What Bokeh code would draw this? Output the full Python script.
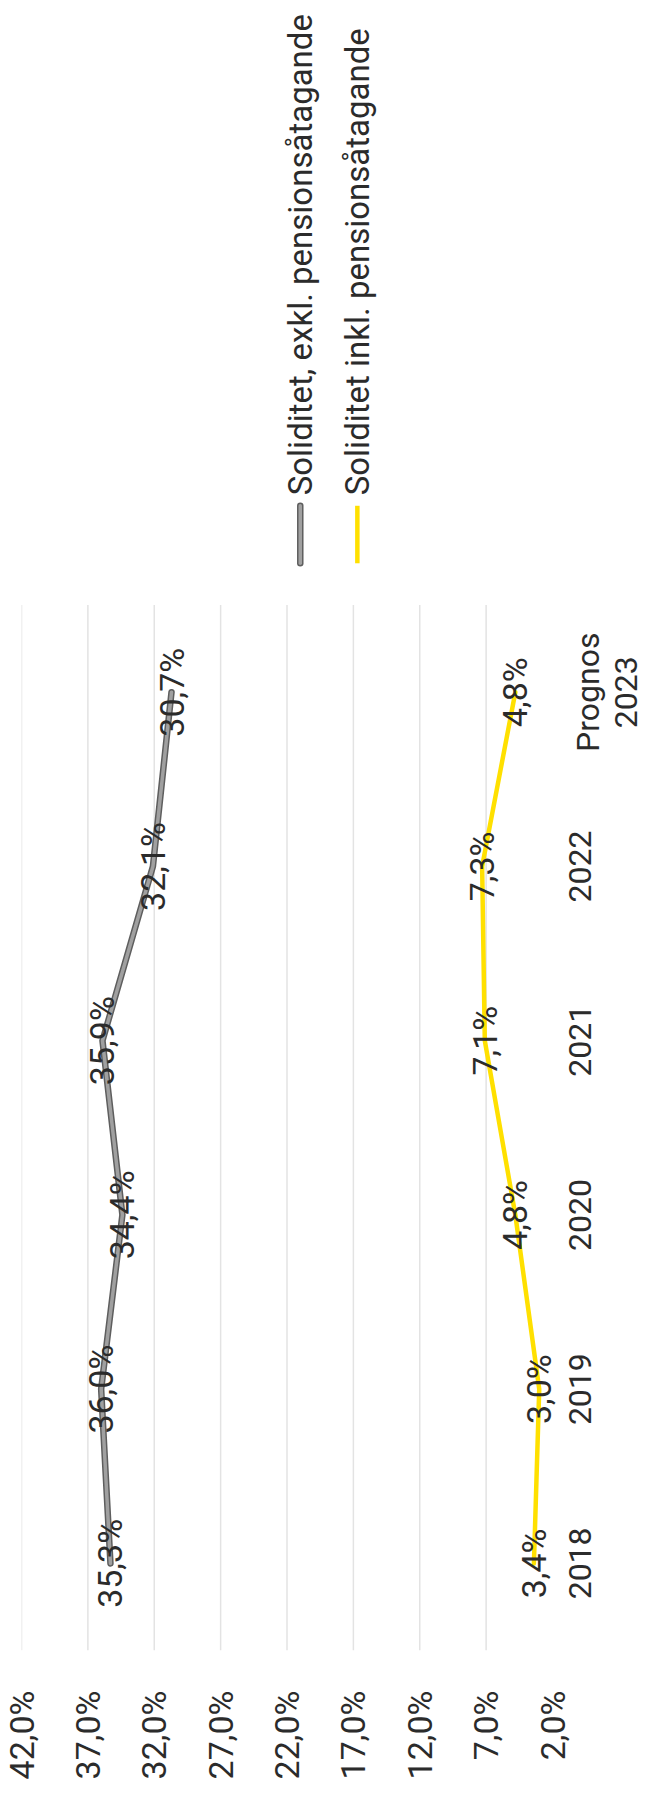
import math
from bokeh.plotting import figure
from bokeh.models import Range1d, FixedTicker, LinearAxis
from bokeh.core.properties import value
from bokeh.embed import file_html
from bokeh.resources import INLINE

# ---- data ----
CATEGORIES = ["2018", "2019", "2020", "2021", "2022", "Prognos\n2023"]
EXKL = [35.3, 36.0, 34.4, 35.9, 32.1, 30.7]
INKL = [3.4, 3.0, 4.8, 7.1, 7.3, 4.8]
VALUE_TICKS = [42, 37, 32, 27, 22, 17, 12, 7, 2]
TICK_LABELS = ["42,0%", "37,0%", "32,0%", "27,0%", "22,0%", "17,0%", "12,0%", "7,0%", "2,0%"]
SERIES_NAMES = ["Soliditet, exkl. pensionsåtagande", "Soliditet inkl. pensionsåtagande"]

FONT = "Roboto"
TEXT = "#2b2b2b"
GRID = "#e3e3e3"
GRAY_EDGE = "#5e5e5e"
GRAY_FILL = "#a0a0a0"
YELLOW = "#FFE000"


def pct(v):
    return f"{v:.1f}".replace(".", ",") + "%"


W, H = 643, 1782
LEFT, BOTTOM = 21, 130
VMAX, VMIN = VALUE_TICKS[0], VALUE_TICKS[-1]
PX_PER_UNIT = 531 / (VMAX - VMIN)          # value axis scale
FRAME_W = W - LEFT
x_end = VMAX - FRAME_W / PX_PER_UNIT       # frame continues past the 2% minimum
idx = list(range(len(CATEGORIES)))

p = figure(width=W, height=H, x_range=Range1d(VMAX, x_end), y_range=Range1d(-0.5, 8.97),
           x_axis_type=None, y_axis_type=None, output_backend="svg", toolbar_location=None,
           min_border_left=LEFT, min_border_right=0, min_border_top=0,
           min_border_bottom=BOTTOM, background_fill_color="white")
p.outline_line_color = None

# value axis (bottom, rotated labels)
xa = LinearAxis(ticker=FixedTicker(ticks=VALUE_TICKS),
                major_label_overrides={t: l for t, l in zip(VALUE_TICKS, TICK_LABELS)},
                major_label_orientation=math.pi / 2,
                axis_line_color=None, major_tick_line_color=None, minor_tick_line_color=None,
                major_label_standoff=34,
                major_label_text_font=FONT, major_label_text_font_size="34px",
                major_label_text_color=TEXT)
p.add_layout(xa, "below")

# gridlines over the category band (no line at the 2% minimum)
gx = VALUE_TICKS[:-1]
n = len(CATEGORIES)
p.segment(x0=gx, x1=gx, y0=[-0.5] * len(gx), y1=[n - 0.5] * len(gx),
          line_color=GRID, line_width=1.5)

# category labels, rotated, just right of the 2% edge
cat_x = VMIN - 16 / PX_PER_UNIT
p.text(x=[cat_x] * n, y=idx, text=CATEGORIES, angle=math.pi / 2,
       text_align="center", text_baseline="top", text_line_height=1.0,
       text_font=value(FONT), text_font_size="32px", text_color=TEXT)

# series lines
p.line(EXKL, idx, line_color=GRAY_EDGE, line_width=6.5, line_join="round", line_cap="round")
p.line(EXKL, idx, line_color=GRAY_FILL, line_width=3.5, line_join="round", line_cap="round")
p.line(INKL, idx, line_color=YELLOW, line_width=4.5, line_join="round", line_cap="round")

# data labels
for vals in (EXKL, INKL):
    p.text(x=vals, y=idx, text=[pct(v) for v in vals], angle=math.pi / 2,
           text_align="center", text_baseline="middle",
           text_font=value(FONT), text_font_size="34px", text_color=TEXT)

# legend (rotated, drawn above the category band)
leg_x = [21.0, 16.7]
seg_y0, seg_y1, txt_y = 5.74, 6.07, 6.13
p.segment(x0=[leg_x[0]], x1=[leg_x[0]], y0=[seg_y0], y1=[seg_y1], line_color=GRAY_EDGE,
          line_width=6.5, line_cap="round")
p.segment(x0=[leg_x[0]], x1=[leg_x[0]], y0=[seg_y0], y1=[seg_y1], line_color=GRAY_FILL,
          line_width=3.5, line_cap="round")
p.segment(x0=[leg_x[1]], x1=[leg_x[1]], y0=[seg_y0], y1=[seg_y1], line_color=YELLOW,
          line_width=4.5)
p.text(x=leg_x, y=[txt_y, txt_y], text=SERIES_NAMES, angle=math.pi / 2,
       text_align="left", text_baseline="middle",
       text_font=value(FONT), text_font_size="33px", text_color=TEXT)

open("out.html", "w", encoding="utf-8").write(file_html(p, INLINE))
